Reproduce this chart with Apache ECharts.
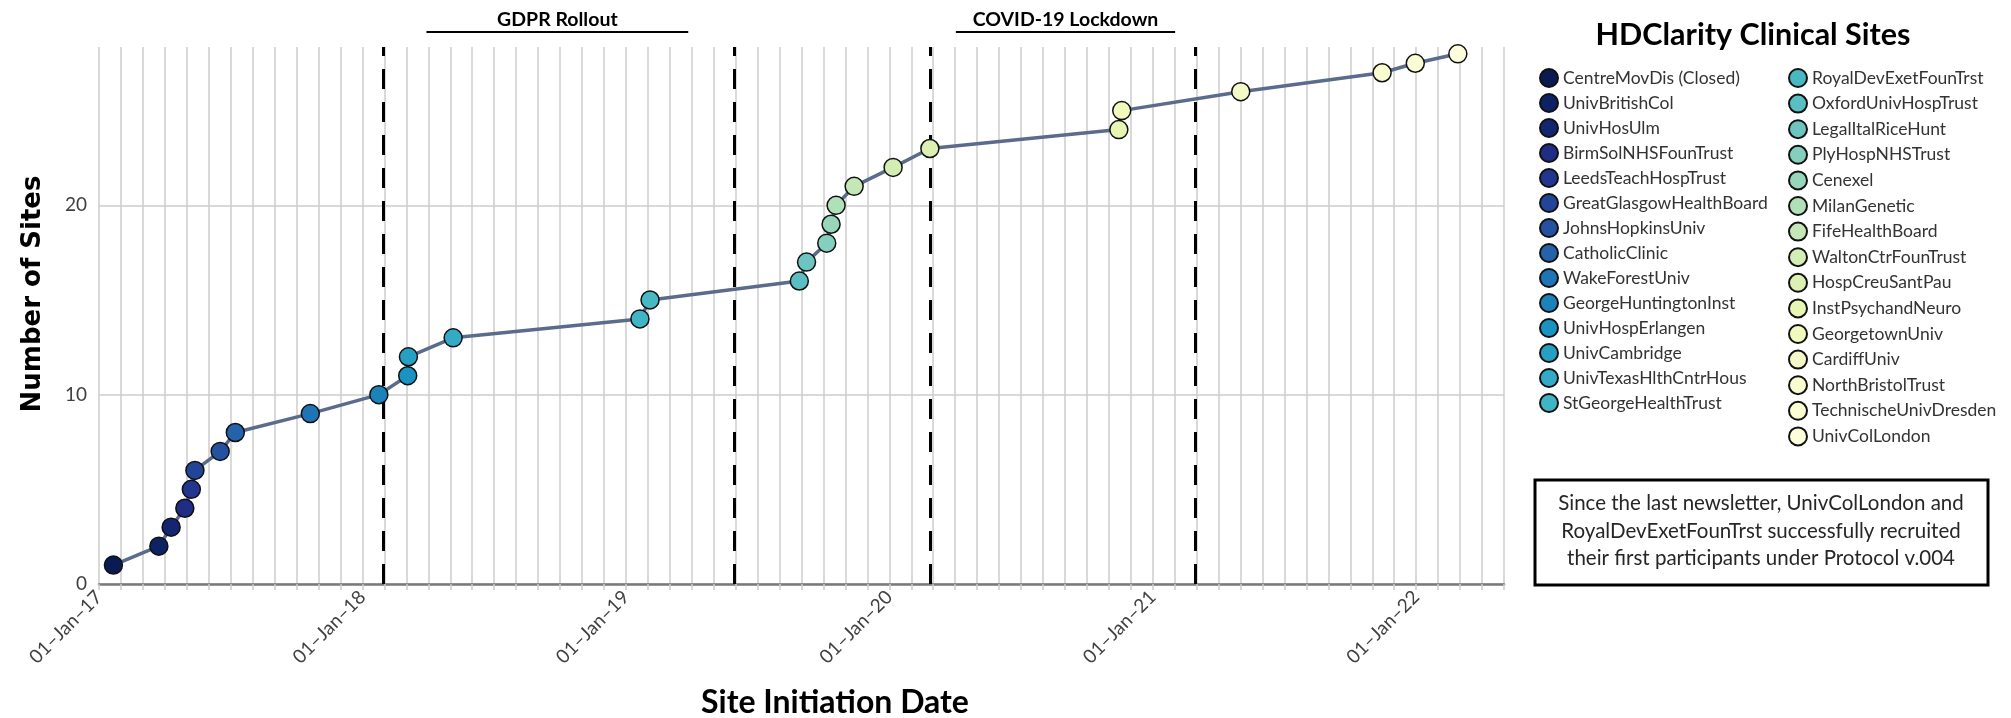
<!DOCTYPE html>
<html>
<head>
<meta charset="utf-8">
<script src="https://cdn.jsdelivr.net/npm/echarts@6/dist/echarts.min.js"></script>
<style>
  html, body { margin: 0; padding: 0; background: #fff; }
  #chart { width: 2011px; height: 718px; }
</style>
</head>
<body>
<div id="chart"></div>
<script>
// sites in order of initiation
const siteNames = [
  'CentreMovDis (Closed)', 'UnivBritishCol', 'UnivHosUlm', 'BirmSolNHSFounTrust',
  'LeedsTeachHospTrust', 'GreatGlasgowHealthBoard', 'JohnsHopkinsUniv', 'CatholicClinic',
  'WakeForestUniv', 'GeorgeHuntingtonInst', 'UnivHospErlangen', 'UnivCambridge',
  'UnivTexasHlthCntrHous', 'StGeorgeHealthTrust', 'RoyalDevExetFounTrst', 'OxfordUnivHospTrust',
  'LegalItalRiceHunt', 'PlyHospNHSTrust', 'Cenexel', 'MilanGenetic', 'FifeHealthBoard',
  'WaltonCtrFounTrust', 'HospCreuSantPau', 'InstPsychandNeuro', 'GeorgetownUniv',
  'CardiffUniv', 'NorthBristolTrust', 'TechnischeUnivDresden', 'UnivColLondon'
]
const initDates = [
  '2017-01-21', '2017-03-25', '2017-04-11', '2017-04-30', '2017-05-09', '2017-05-14',
  '2017-06-18', '2017-07-09', '2017-10-21', '2018-01-24', '2018-03-05', '2018-03-06',
  '2018-05-07', '2019-01-21', '2019-02-04', '2019-08-30', '2019-09-09', '2019-10-07',
  '2019-10-13', '2019-10-20', '2019-11-14', '2020-01-07', '2020-02-27', '2020-11-15',
  '2020-11-19', '2021-05-03', '2021-11-15', '2021-12-31', '2022-02-28'
]
const siteCounts = [
  1, 2, 3, 4, 5, 6, 7, 8, 9, 10, 11, 12, 13, 14, 15, 16, 17, 18, 19, 20,
  21, 22, 23, 24, 25, 26, 27, 27.5, 28
]
const siteColors = [
  '#0a1a52', '#0d2263', '#142670', '#1f2d85', '#22358f', '#234597', '#2452a0', '#2463a9',
  '#1f74b5', '#1c82ba', '#1a92c2', '#25a0c3', '#33abc6', '#40b5c5', '#48b8c3', '#5abfc2',
  '#6cc6bf', '#84cfbd', '#98d6bc', '#b0e0b8', '#c3e7b6', '#d3eeb5', '#dcf0b4', '#e8f6b4',
  '#f1f9bd', '#f4fac7', '#f8fccf', '#fbfdd3', '#fdfed9'
]

const eventDates = ['2018-01-30', '2019-06-01', '2020-02-27', '2021-03-01']
const periodNames = ['GDPR Rollout', 'COVID-19 Lockdown']
const periodStarts = ['2018-03-31', '2020-04-03']
const periodEnds = ['2019-03-29', '2021-02-01']

const yearTickLabels = ['01–Jan–17', '01–Jan–18', '01–Jan–19', '01–Jan–20', '01–Jan–21', '01–Jan–22']
const yTicks = [0, 10, 20]

const noteLines = [
  'Since the last newsletter, UnivColLondon and',
  'RoyalDevExetFounTrst successfully recruited',
  'their first participants under Protocol v.004'
]

// x axis is days since 01-Jan-17, one tick per (average) month
const MONTH = 30.4375
const T0 = Date.UTC(2017, 0, 1)
const dayOf = (s) => {
  const p = s.split('-').map(Number)
  return (Date.UTC(p[0], p[1] - 1, p[2]) - T0) / 86400000
}

const points = initDates.map((d, i) => [dayOf(d), siteCounts[i]])

const chart = echarts.init(document.getElementById('chart'))

const gridGray = '#cdcdcd'
const font = 'Lato, "Open Sans", sans-serif'

const scatterSeries = siteNames.map((name, i) => ({
  name: name,
  type: 'scatter',
  symbol: 'circle',
  symbolSize: 18,
  z: 5,
  itemStyle: { color: siteColors[i], borderColor: '#111', borderWidth: 1.5, opacity: 1 },
  emphasis: { disabled: true },
  data: [points[i]]
}))

const legendText = { fontSize: 17.5, color: '#333', fontFamily: font }

const option = {
  animation: false,
  backgroundColor: '#fff',
  textStyle: { fontFamily: font },
  grid: { left: 99, right: 507, top: 47, bottom: 134 },
  xAxis: {
    type: 'value',
    min: 0,
    max: MONTH * 64,
    interval: MONTH,
    axisLine: { show: true, lineStyle: { color: '#7a7a7a', width: 2.5 } },
    axisTick: { show: true, length: 6, lineStyle: { color: gridGray, width: 1.5 } },
    splitLine: { show: true, lineStyle: { color: gridGray, width: 1.5 } },
    axisLabel: {
      rotate: 45,
      margin: 10,
      fontSize: 19,
      color: '#404040',
      fontFamily: font,
      formatter: (v) => {
        const m = Math.round(v / MONTH)
        return m % 12 === 0 ? (yearTickLabels[m / 12] || '') : ''
      }
    }
  },
  yAxis: {
    type: 'value',
    min: 0,
    max: 28.36,
    interval: 10,
    axisLine: { show: false },
    axisTick: { show: false },
    splitLine: {
      show: true,
      lineStyle: { color: [gridGray, gridGray, gridGray, 'rgba(0,0,0,0)'], width: 1.5 }
    },
    axisLabel: {
      showMaxLabel: false,
      margin: 12,
      fontSize: 19,
      color: '#404040',
      fontFamily: font,
      formatter: (v) => (yTicks.indexOf(v) >= 0 ? String(v) : '')
    }
  },
  legend: [
    {
      data: siteNames.slice(0, 14),
      orient: 'vertical',
      left: 1534,
      top: 63,
      itemWidth: 18,
      itemHeight: 18,
      itemGap: 5,
      icon: 'circle',
      selectedMode: false,
      textStyle: legendText
    },
    {
      data: siteNames.slice(14),
      orient: 'vertical',
      left: 1783,
      top: 63,
      itemWidth: 18,
      itemHeight: 18,
      itemGap: 5.6,
      icon: 'circle',
      selectedMode: false,
      textStyle: legendText
    }
  ],
  graphic: [
    {
      type: 'text',
      style: {
        x: 1753, y: 35, text: 'HDClarity Clinical Sites',
        align: 'center', verticalAlign: 'middle',
        fontSize: 30.5, fontWeight: 'bold', fontFamily: font, fill: '#000'
      }
    },
    {
      type: 'text',
      rotation: Math.PI / 2,
      x: 33, y: 294,
      style: {
        x: 0, y: 0, text: 'Number of Sites',
        align: 'center', verticalAlign: 'middle',
        fontSize: 26, fontWeight: 'bold', fontFamily: '"DejaVu Sans", sans-serif', fill: '#000'
      }
    },
    {
      type: 'text',
      style: {
        x: 835, y: 703, text: 'Site Initiation Date',
        align: 'center', verticalAlign: 'middle',
        fontSize: 32, fontWeight: 'bold', fontFamily: font, fill: '#000'
      }
    },
    {
      type: 'rect',
      shape: { x: 1535, y: 480, width: 453, height: 105 },
      style: { fill: '#fff', stroke: '#000', lineWidth: 3 }
    },
    {
      type: 'text',
      style: {
        x: 1761, y: 531, text: noteLines.join('\n'),
        align: 'center', verticalAlign: 'middle', lineHeight: 27.5,
        fontSize: 20.5, fontFamily: font, fill: '#262626'
      }
    }
  ],
  series: [
    {
      name: 'sites',
      type: 'line',
      data: points,
      showSymbol: false,
      z: 3,
      lineStyle: { color: '#5b6b8c', width: 3.5 },
      emphasis: { disabled: true },
      markLine: {
        silent: true,
        symbol: ['none', 'none'],
        label: { show: false },
        lineStyle: { color: '#000', width: 3, type: [20, 13] },
        data: eventDates.map((d) => ({ xAxis: dayOf(d) }))
      }
    },
    {
      name: 'periods',
      type: 'custom',
      clip: false,
      silent: true,
      encode: { x: [0, 1] },
      data: periodStarts.map((s, i) => [dayOf(s), dayOf(periodEnds[i])]),
      renderItem: (params, api) => {
        const x0 = api.coord([api.value(0), 0])[0]
        const x1 = api.coord([api.value(1), 0])[0]
        const top = params.coordSys.y
        return {
          type: 'group',
          children: [
            {
              type: 'line',
              shape: { x1: x0, y1: top - 15, x2: x1, y2: top - 15 },
              style: { stroke: '#000', lineWidth: 2 }
            },
            {
              type: 'text',
              style: {
                x: (x0 + x1) / 2, y: top - 27,
                text: periodNames[params.dataIndex],
                align: 'center', verticalAlign: 'middle',
                fontSize: 19.5, fontWeight: 'bold', fontFamily: font, fill: '#000'
              }
            }
          ]
        }
      }
    }
  ].concat(scatterSeries)
}

chart.setOption(option)
window.addEventListener('resize', () => chart.resize())
</script>
</body>
</html>
